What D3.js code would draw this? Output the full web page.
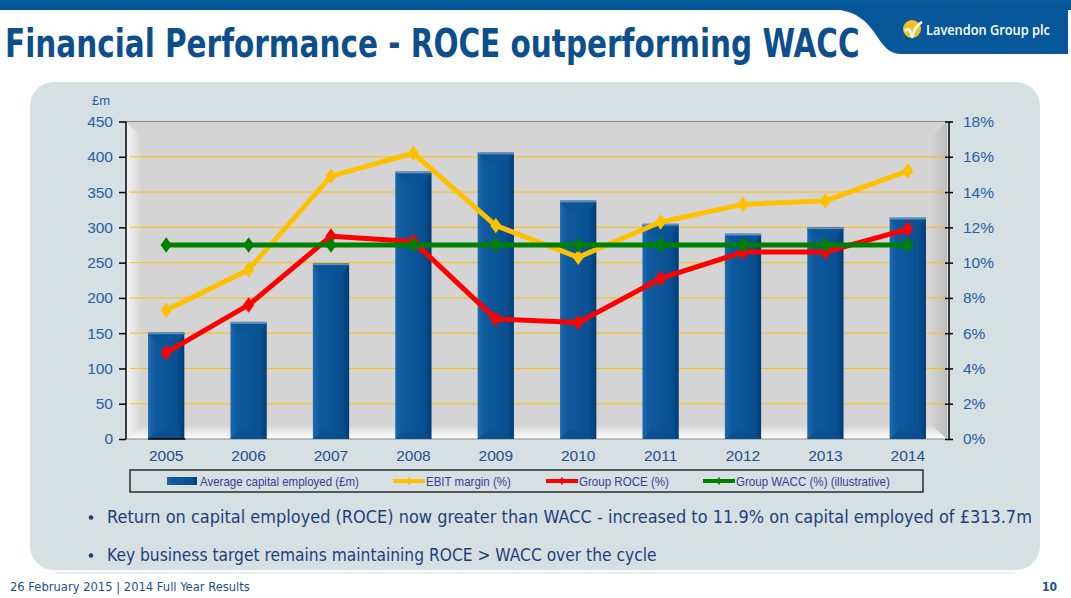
<!DOCTYPE html>
<html>
<head>
<meta charset="utf-8">
<script src="https://cdn.jsdelivr.net/npm/d3@7"></script>
<style>
  html, body { margin: 0; padding: 0; background: #ffffff; }
  svg { display: block; }
</style>
</head>
<body>
<svg id="chart" width="1071" height="598"></svg>
<script>
// ---- data ----
const years = ["2005","2006","2007","2008","2009","2010","2011","2012","2013","2014"];
const capitalEmployed = [151, 166, 249, 379, 406, 338, 305, 291, 300, 313.7];
const ebitMargin = [7.3, 9.6, 14.9, 16.2, 12.1, 10.3, 12.3, 13.3, 13.5, 15.2];
const groupROCE = [4.9, 7.6, 11.5, 11.2, 6.8, 6.6, 9.1, 10.6, 10.6, 11.9];
const groupWACC = [11, 11, 11, 11, 11, 11, 11, 11, 11, 11];
const leftTicks = [0, 50, 100, 150, 200, 250, 300, 350, 400, 450];
const rightTicks = [0, 2, 4, 6, 8, 10, 12, 14, 16, 18];
const legendLabels = ["Average capital employed (£m)", "EBIT margin (%)", "Group ROCE (%)", "Group WACC (%) (illustrative)"];
const titleText = "Financial Performance - ROCE outperforming WACC";
const bullets = [
  "Return on capital employed (ROCE) now greater than WACC - increased to 11.9% on capital employed of £313.7m",
  "Key business target remains maintaining ROCE > WACC over the cycle"
];
const footerText = "26 February 2015 | 2014 Full Year Results";
const pageNum = "10";

const svg = d3.select("#chart");
const defs = svg.append("defs");

// Fit a text to a target width by narrowing the font and stretching vertically
function fitText(parent, str, x0, y0, targetW, size, attrs) {
  const t = parent.append("text").text(str).attr("x", 0).attr("y", 0).attr("font-size", size);
  Object.entries(attrs).forEach(([k, v]) => t.attr(k, v));
  const w = t.node().getComputedTextLength();
  const s = size * targetW / w;
  t.attr("font-size", s).attr("transform", `translate(${x0},${y0}) scale(1,${size / s})`);
  return t;
}

// ---- gradients ----
function lin(id, x2, y2, stops) {
  const g = defs.append("linearGradient").attr("id", id)
    .attr("x1", 0).attr("y1", 0).attr("x2", x2).attr("y2", y2);
  stops.forEach(s => g.append("stop").attr("offset", s[0]).attr("stop-color", s[1]));
}
lin("barGrad", 1, 0, [["0%", "#1b6aaf"], ["18%", "#0e5a9e"], ["80%", "#0a5092"], ["100%", "#003c76"]]);
lin("leftWall", 1, 0, [["0%", "#f4f4f4"], ["100%", "#d4d4d4"]]);
lin("rightWall", 1, 0, [["0%", "#d4d4d4"], ["100%", "#bcbcbc"]]);
lin("floorGrad", 0, 1, [["0%", "#d4d4d4"], ["100%", "#ffffff"]]);
lin("bandGrad", 0, 1, [["0%", "#0a5ea0"], ["100%", "#055495"]]);

// ---- header ----
svg.append("rect").attr("x", 0).attr("y", 0).attr("width", 1071).attr("height", 10).attr("fill", "url(#bandGrad)");
svg.append("path")
  .attr("d", "M 822,9 C 852,8 864,18 874,32 C 884,47 889,54 902,54 L 1068,54 L 1068,9 Z")
  .attr("fill", "#07589a");
// logo
svg.append("circle").attr("cx", 912).attr("cy", 29).attr("r", 9).attr("fill", "#f3c11f");
svg.append("path").attr("d", "M 905,31 Q 910,26 912,37 Q 915,26 922,22").attr("fill", "none")
  .attr("stroke", "#ffffff").attr("stroke-width", 2.6).attr("stroke-linejoin", "round");
fitText(svg, "Lavendon Group plc", 926, 35, 124, 15,
  { "font-family": "Open Sans, DejaVu Sans, sans-serif", "font-weight": 600, "fill": "#ffffff" });

// title
fitText(svg, titleText, 5, 57, 855, 39,
  { "font-family": "DejaVu Sans Condensed, DejaVu Sans, sans-serif", "font-weight": "bold", "fill": "#0d4e8c" });

// ---- panel ----
svg.append("rect").attr("x", 30).attr("y", 82).attr("width", 1010).attr("height", 488)
  .attr("rx", 24).attr("ry", 24).attr("fill", "#d6dfe2");
svg.append("line").attr("x1", 55).attr("x2", 1015).attr("y1", 573).attr("y2", 573)
  .attr("stroke", "#e2e8eb").attr("stroke-width", 1.5);

// ---- scales ----
const x = d3.scaleBand().domain(years).range([125, 949]).paddingInner(0.56).paddingOuter(0.28);
const yL = d3.scaleLinear().domain([0, 450]).range([439, 121.5]);
const yR = d3.scaleLinear().domain([0, 18]).range([439, 121.5]);
const cx = d => x(d) + x.bandwidth() / 2;

const pL = 126, pR = 947, pT = yL(450), pB = yL(0);

// plot area with 3D walls
svg.append("rect").attr("x", pL).attr("y", pT).attr("width", pR - pL).attr("height", pB - pT).attr("fill", "#d4d4d4");
svg.append("polygon").attr("points", `${pL},${pT} ${pL+16},${pT+16} ${pL+16},${pB-14} ${pL},${pB}`).attr("fill", "url(#leftWall)");
svg.append("polygon").attr("points", `${pR-16},${pT+16} ${pR},${pT} ${pR},${pB} ${pR-16},${pB-14}`).attr("fill", "url(#rightWall)");
svg.append("polygon").attr("points", `${pL},${pB} ${pL+16},${pB-14} ${pR-16},${pB-14} ${pR},${pB}`).attr("fill", "url(#floorGrad)");
svg.append("line").attr("x1", pL).attr("x2", pR).attr("y1", pT).attr("y2", pT).attr("stroke", "#8a8a8a").attr("stroke-width", 1);
svg.append("line").attr("x1", pL).attr("x2", pR).attr("y1", pB).attr("y2", pB).attr("stroke", "#8a8a8a").attr("stroke-width", 1);

// gridlines
svg.append("g").selectAll("line").data(leftTicks.filter(t => t > 0 && t < 450)).join("line")
  .attr("x1", 130).attr("x2", pR).attr("y1", d => yL(d)).attr("y2", d => yL(d))
  .attr("stroke", "#ffc000").attr("stroke-width", 1);

// bars
const bars = svg.append("g");
bars.selectAll("rect.bar").data(years).join("rect").attr("class", "bar")
  .attr("x", d => x(d)).attr("width", x.bandwidth())
  .attr("y", (d, i) => yL(capitalEmployed[i])).attr("height", (d, i) => yL(0) - yL(capitalEmployed[i]))
  .attr("fill", "url(#barGrad)");
bars.selectAll("rect.cap").data(years).join("rect").attr("class", "cap")
  .attr("x", d => x(d)).attr("width", x.bandwidth())
  .attr("y", (d, i) => yL(capitalEmployed[i])).attr("height", 2)
  .attr("fill", "#5f8fbf");
bars.selectAll("path.bev").data(years).join("path").attr("class", "bev")
  .attr("d", (d, i) => {
    const x0 = x(d), x1 = x0 + x.bandwidth(), y0 = yL(capitalEmployed[i]) + 2;
    return `M${x0},${y0} L${x0+8},${y0+8} L${x1-8},${y0+8} L${x1},${y0} Z`;
  })
  .attr("fill", "#0a5596").attr("opacity", 0.8);
bars.selectAll("path.bevb").data(years).join("path").attr("class", "bevb")
  .attr("d", d => {
    const x0 = x(d), x1 = x0 + x.bandwidth(), y0 = yL(0);
    return `M${x0},${y0} L${x0+8},${y0-8} L${x1-8},${y0-8} L${x1},${y0} Z`;
  })
  .attr("fill", "#0b4f8c").attr("opacity", 0.7);
bars.append("line").attr("x1", x(years[0])).attr("x2", x(years[0]) + x.bandwidth() + 1)
  .attr("y1", yL(0)).attr("y2", yL(0)).attr("stroke", "#000").attr("stroke-width", 1.5);

// lines
const seriesLines = [
  { vals: ebitMargin, color: "#ffc000" },
  { vals: groupROCE, color: "#ff0000" },
  { vals: groupWACC, color: "#008000" }
];
const lineGen = d3.line().x((v, i) => cx(years[i])).y(v => yR(v));
const diamond = d3.symbol().type(d3.symbolDiamond).size(70);
seriesLines.forEach(s => {
  const g = svg.append("g");
  g.append("path").attr("d", lineGen(s.vals)).attr("fill", "none")
    .attr("stroke", s.color).attr("stroke-width", 5).attr("stroke-linejoin", "round");
  g.selectAll("path.m").data(s.vals).join("path").attr("class", "m")
    .attr("d", diamond)
    .attr("transform", (v, i) => `translate(${cx(years[i])},${yR(v)}) scale(1.25,1)`)
    .attr("fill", s.color);
});

// axes
const tickColor = "#2460a8";
const axL = svg.append("g").attr("transform", `translate(${pL},0)`)
  .call(d3.axisLeft(yL).tickValues(leftTicks).tickSize(7).tickPadding(6));
const axR = svg.append("g").attr("transform", `translate(949,0)`)
  .call(d3.axisRight(yR).tickValues(rightTicks).tickFormat(d => d + "%").tickSize(4).tickPadding(10));
[axL, axR].forEach(a => {
  a.select(".domain").attr("stroke", "#000").attr("stroke-width", 1.5);
  a.selectAll(".tick line").attr("stroke", "#000").attr("stroke-width", 1.5);
  a.selectAll(".tick text").attr("fill", tickColor).attr("font-size", 15.5)
    .attr("font-family", "Liberation Sans, Arial, sans-serif");
});
axR.selectAll(".tick line").attr("x1", -4).attr("x2", 4);
axL.select(".domain").attr("d", `M0,${pT}V${pB}`);
axR.select(".domain").attr("d", `M0,${pT}V${pB}`);

// x labels
svg.append("g").selectAll("text").data(years).join("text")
  .attr("x", d => cx(d)).attr("y", 461).attr("text-anchor", "middle").text(d => d)
  .attr("fill", "#1f4f90").attr("font-size", 15.5).attr("font-family", "Liberation Sans, Arial, sans-serif");

// unit label
svg.append("text").attr("x", 92).attr("y", 105).text("£m")
  .attr("fill", tickColor).attr("font-size", 13).attr("font-family", "Liberation Sans, Arial, sans-serif");

// legend
const lg = svg.append("g");
lg.append("rect").attr("x", 130).attr("y", 470).attr("width", 793).attr("height", 22)
  .attr("fill", "none").attr("stroke", "#000").attr("stroke-width", 1.2);
const legX = [167, 393, 546, 703];
const legTextW = [159, 85, 90, 154];
const legColors = [null, "#ffc000", "#ff0000", "#008000"];
legendLabels.forEach((lab, i) => {
  const sx = legX[i];
  if (i === 0) {
    lg.append("rect").attr("x", sx).attr("y", 477).attr("width", 30).attr("height", 8).attr("fill", "url(#barGrad)");
  } else {
    lg.append("line").attr("x1", sx).attr("x2", sx + 32).attr("y1", 481).attr("y2", 481)
      .attr("stroke", legColors[i]).attr("stroke-width", 4);
    lg.append("path").attr("d", d3.symbol().type(d3.symbolDiamond).size(20))
      .attr("transform", `translate(${sx + 16},481)`).attr("fill", legColors[i]);
  }
  fitText(lg, lab, sx + 33, 485.5, legTextW[i], 13,
    { "fill": "#3a3a9c", "font-family": "Liberation Sans, Arial, sans-serif" });
});

// bullets
const bulletY = [523, 561];
const bulletLen = [926, 550];
bullets.forEach((b, i) => {
  svg.append("circle").attr("cx", 91).attr("cy", bulletY[i] - 5.5).attr("r", 2.3).attr("fill", "#1c3f7c");
  fitText(svg, b, 107, bulletY[i], bulletLen[i], 17.5,
    { "fill": "#1c3f7c", "font-family": "DejaVu Sans, sans-serif" });
});

// footer
fitText(svg, footerText, 10, 591, 240, 11.5,
  { "fill": "#1a4f8f", "font-family": "DejaVu Sans Condensed, DejaVu Sans, sans-serif" });
svg.append("text").attr("x", 1057).attr("y", 591).attr("text-anchor", "end").text(pageNum)
  .attr("fill", "#1a4f8f").attr("font-size", 12).attr("font-weight", "bold")
  .attr("font-family", "DejaVu Sans Condensed, DejaVu Sans, sans-serif");
</script>
</body>
</html>
